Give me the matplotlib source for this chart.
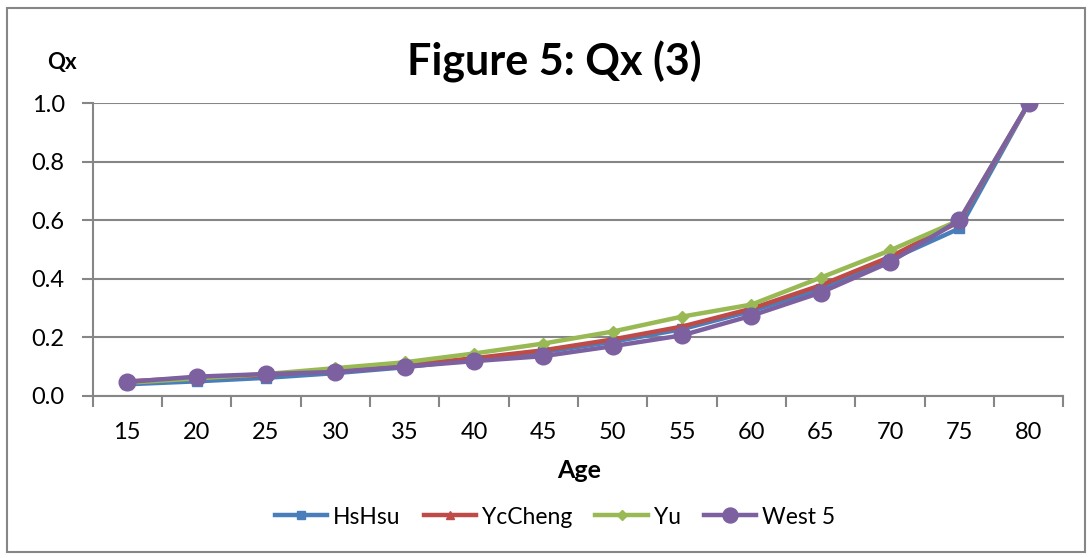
import matplotlib
matplotlib.use("Agg")
import matplotlib.pyplot as plt
from matplotlib.patches import Rectangle
import numpy as np

plt.rcParams['font.family'] = ['Lato', 'DejaVu Sans']

ages = [15, 20, 25, 30, 35, 40, 45, 50, 55, 60, 65, 70, 75, 80]
hshsu = [0.040, 0.050, 0.062, 0.078, 0.098, 0.125, 0.150, 0.185, 0.228, 0.290, 0.365, 0.465, 0.572, 1.0]
yccheng = [0.050, 0.062, 0.072, 0.088, 0.105, 0.129, 0.156, 0.193, 0.237, 0.298, 0.378, 0.475, 0.595, 1.0]
yu = [0.045, 0.060, 0.075, 0.095, 0.115, 0.145, 0.179, 0.220, 0.271, 0.312, 0.404, 0.497, 0.600, 1.0]
west5 = [0.048, 0.066, 0.075, 0.082, 0.100, 0.119, 0.136, 0.170, 0.207, 0.274, 0.353, 0.457, 0.600, 1.0]
y_ticks = [0.0, 0.2, 0.4, 0.6, 0.8, 1.0]

series = [
    ("HsHsu", hshsu, "#4A7EBB", "s", 7),
    ("YcCheng", yccheng, "#BE4B48", "^", 7),
    ("Yu", yu, "#98B954", "D", 6),
    ("West 5", west5, "#7D60A0", "o", 12),
]

fig = plt.figure(figsize=(10.92, 5.58), dpi=100)
W, H = 1092, 558
ax = fig.add_axes([92.5 / W, 1 - 396 / H, (1063.5 - 92.5) / W, (396 - 103) / H])

x = np.arange(len(ages))
for name, vals, col, mk, ms in series:
    ax.plot(x, vals, color=col, lw=3.2, marker=mk, ms=ms, mfc=col, mec=col, label=name)

grid_c = "#868686"
ax.set_xlim(-0.5, len(ages) - 0.5)
ax.set_ylim(0, 1.0)
ax.set_yticks(y_ticks)
ax.set_yticklabels([f"{v:.1f}" for v in y_ticks], fontsize=17)
ax.yaxis.grid(True, color=grid_c, lw=1.5)
ax.set_axisbelow(True)

ax.set_xticks(np.arange(-0.5, len(ages), 1.0))
ax.set_xticklabels([])
ax.set_xticks(x, minor=True)
ax.set_xticklabels([str(a) for a in ages], minor=True, fontsize=17)
ax.tick_params(axis='x', which='major', length=8, width=1.5, color=grid_c)
ax.tick_params(axis='x', which='minor', length=0, pad=19)
ax.tick_params(axis='y', length=8, width=1.5, color=grid_c, pad=12)

for s in ["top", "right"]:
    ax.spines[s].set_visible(False)
for s in ["left", "bottom"]:
    ax.spines[s].set_color(grid_c)
    ax.spines[s].set_linewidth(1.5)

fig.text(554 / W, 1 - 62 / H, "Figure 5: Qx (3)", fontsize=31, fontweight="bold",
         ha="center", va="center")
fig.text(62 / W, 1 - 62 / H, "Qx", fontsize=16, fontweight="bold", ha="center", va="center")
fig.text(579 / W, 1 - 470 / H, "Age", fontsize=18, fontweight="bold", ha="center", va="center")

fig.legend(loc="center", bbox_to_anchor=(555 / W, 1 - 517 / H), ncol=4, frameon=False,
           fontsize=16.5, handlelength=2.3, columnspacing=1.0, handletextpad=0.25,
           markerscale=0.9)

fig.patches.append(Rectangle((7 / W, 1 - 552 / H), 1078 / W, 544 / H, transform=fig.transFigure,
                             fill=False, edgecolor="#868686", lw=1.5))

fig.savefig("out.png", dpi=100)
